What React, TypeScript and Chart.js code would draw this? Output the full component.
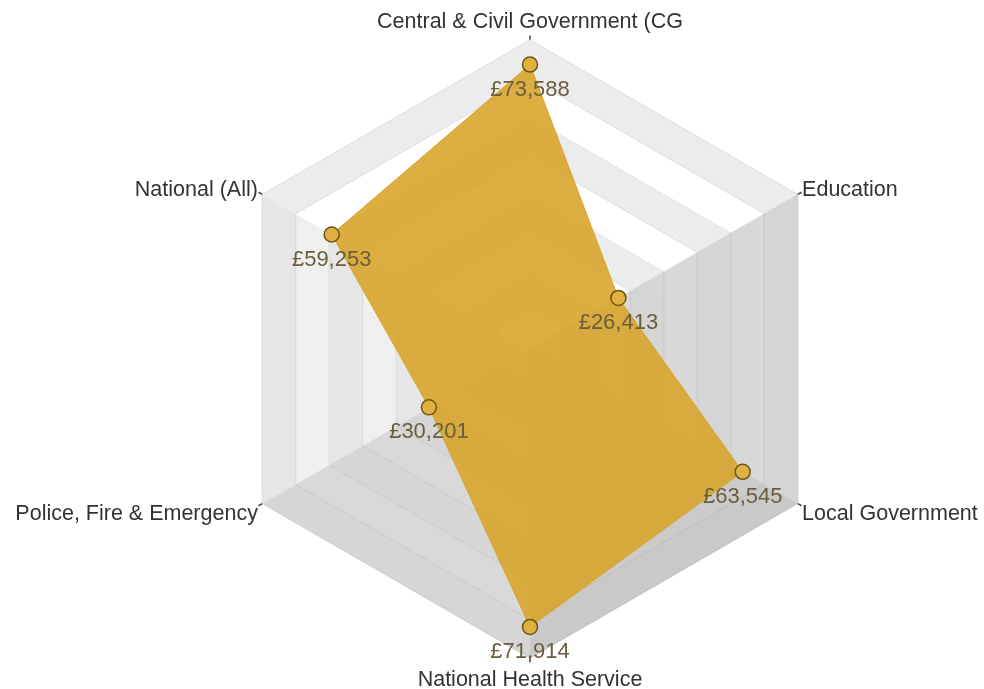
import React, { useEffect, useRef } from "react";
import { Chart, registerables } from "chart.js";

Chart.register(...registerables);

const categories = [
  "Central & Civil Government (CG",
  "Education",
  "Local Government",
  "National Health Service",
  "Police, Fire & Emergency",
  "National (All)",
];
const salaries = [73588, 26413, 63545, 71914, 30201, 59253];
const scaleMax = 80000;
const scaleStep = 10000;

// per-sector band colours [even ring, odd ring], sector i spans axis i -> axis i+1
const sectorColors = [
  ["#ececec", "#ffffff"],
  ["#d5d5d5", "#d8d8d8"],
  ["#c9c9c9", "#cbcbcb"],
  ["#d6d6d6", "#d9d9d9"],
  ["#e6e6e6", "#efefef"],
  ["#ececec", "#ffffff"],
];

const LABEL_FONT_SIZE = 21.5;

const bandsPlugin = {
  id: "bands",
  afterLayout(chart: any) {
    // centre the side labels vertically on their anchor points
    const scale = chart.scales.r;
    const items = scale && scale._pointLabelItems;
    if (!items) return;
    const h = LABEL_FONT_SIZE * 1.2;
    items.forEach((it: any, i: number) => {
      const deg = Math.round((i * 360) / categories.length);
      if ((deg > 0 && deg < 90) || deg > 270) it.y += h / 2 - 2;
      else if (deg > 90 && deg < 270 && deg !== 180) it.y -= h / 2 - 8;
      else if (deg === 180) it.y += 4;
    });
  },
  beforeDraw(chart: any) {
    const scale = chart.scales.r;
    if (!scale) return;
    const ctx = chart.ctx;
    const n = categories.length;
    const rings = Math.round(scaleMax / scaleStep);
    ctx.save();
    for (let i = 0; i < n; i++) {
      const j = (i + 1) % n;
      for (let k = 1; k <= rings; k++) {
        const vOut = k * scaleStep;
        const vIn = (k - 1) * scaleStep;
        const a = scale.getPointPositionForValue(i, vOut);
        const b = scale.getPointPositionForValue(j, vOut);
        const c = scale.getPointPositionForValue(j, vIn);
        const d = scale.getPointPositionForValue(i, vIn);
        ctx.beginPath();
        ctx.moveTo(a.x, a.y);
        ctx.lineTo(b.x, b.y);
        ctx.lineTo(c.x, c.y);
        ctx.lineTo(d.x, d.y);
        ctx.closePath();
        ctx.fillStyle = sectorColors[i][k % 2 === 0 ? 0 : 1];
        ctx.fill();
        ctx.strokeStyle = ctx.fillStyle;
        ctx.lineWidth = 0.5;
        ctx.stroke();
      }
    }
    // small tick marks at the outer vertices
    ctx.strokeStyle = "#444";
    ctx.lineWidth = 1.5;
    for (let i = 0; i < n; i++) {
      const p1 = scale.getPointPositionForValue(i, scaleMax);
      const p2 = scale.getPointPositionForValue(i, scaleMax * 1.014);
      ctx.beginPath();
      ctx.moveTo(p1.x, p1.y);
      ctx.lineTo(p2.x, p2.y);
      ctx.stroke();
    }
    ctx.restore();
  },
};

const valueLabelPlugin = {
  id: "valueLabels",
  afterDatasetsDraw(chart: any) {
    const ctx = chart.ctx;
    const meta = chart.getDatasetMeta(0);
    ctx.save();
    ctx.font = '22px "Liberation Sans", Arial, sans-serif';
    ctx.fillStyle = "#6b5e3e";
    ctx.textAlign = "center";
    ctx.textBaseline = "middle";
    meta.data.forEach((el: any, i: number) => {
      const v = salaries[i];
      const txt = "£" + v.toLocaleString("en-GB");
      ctx.fillText(txt, el.x, el.y + 25);
    });
    ctx.restore();
  },
};

export default function App() {
  const ref = useRef<HTMLCanvasElement | null>(null);
  useEffect(() => {
    document.body.style.margin = "0";
    const chart = new Chart(ref.current as HTMLCanvasElement, {
      type: "radar",
      data: {
        labels: categories,
        datasets: [
          {
            label: "Median salary",
            data: salaries,
            backgroundColor: "rgba(216,163,40,0.88)",
            borderColor: "rgba(216,163,40,0.9)",
            borderWidth: 1,
            pointRadius: 7.5,
            pointBackgroundColor: "#e0b140",
            pointBorderColor: "#6e5518",
            pointBorderWidth: 1.5,
          },
        ],
      },
      options: {
        animation: false,
        responsive: true,
        maintainAspectRatio: false,
        layout: { padding: { top: 9, bottom: 0, left: 0, right: 0 } },
        plugins: { legend: { display: false }, tooltip: { enabled: false } },
        scales: {
          r: {
            min: 0,
            max: scaleMax,
            ticks: { display: false, stepSize: scaleStep },
            grid: { color: "rgba(0,0,0,0.08)", lineWidth: 1 },
            angleLines: { display: false },
            pointLabels: {
              color: "#333333",
              padding: 5,
              font: { family: '"Liberation Sans", Arial, sans-serif', size: LABEL_FONT_SIZE },
            },
          },
        },
      },
      plugins: [bandsPlugin, valueLabelPlugin],
    });
    return () => chart.destroy();
  }, []);
  return (
    <div style={{ position: "relative", width: 984, height: 689, overflow: "hidden" }}>
      <div style={{ position: "absolute", left: 0, top: 0, width: 1030, height: 689 }}>
        <canvas ref={ref} />
      </div>
    </div>
  );
}
